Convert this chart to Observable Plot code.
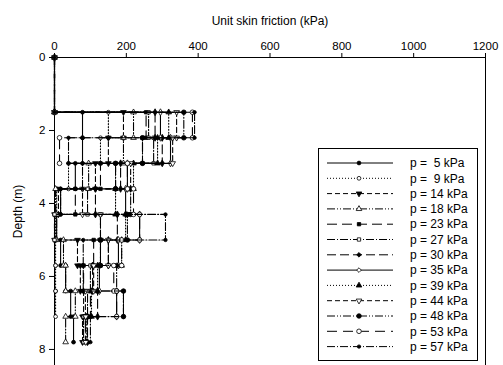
<!DOCTYPE html>
<html><head><meta charset="utf-8">
<script src="https://cdn.jsdelivr.net/npm/d3@7"></script>
<script src="https://cdn.jsdelivr.net/npm/@observablehq/plot@0.6"></script>
<style>
body{margin:0;background:#fff;font-family:"Liberation Sans",Arial,sans-serif}
#chart{position:relative;width:503px;height:365px;overflow:hidden}
</style>
</head><body><div id="chart"></div>
<script>
// Layer boundaries (depth, m)
const depths = [0, 1.5, 2.2, 2.9, 3.6, 4.3, 5.0, 5.7, 6.4, 7.1, 7.8];
// Pressures (kPa) for each series
const pressures = [5, 9, 14, 18, 23, 27, 30, 35, 39, 44, 48, 53, 57];
// Unit skin friction (kPa) in each layer below 1.5 m, one list per series
const p5  = [78, 78, 58, 17, 6, 17, 31, 45, 53];
const p9  = [150, 128, 39, 6, 3, 3, 3, 3, null];
const p14 = [192, 150, 114, 11, 0, 64, 72, 81, 78];
const p18 = [220, 192, 95, 3, 6, 25, 31, 58, 31];
const p23 = [255, 245, 128, 58, 128, 109, 81, 100, 86];
const p27 = [262, 276, 170, 92, 0, 128, 100, 92, 81];
const p30 = [280, 300, 184, 114, 175, 150, 106, 120, 92];
const p35 = [295, 323, 203, 198, 237, 178, 125, 173, null];
const p39 = [318, 287, 220, 170, 198, 187, 120, 103, 90];
const p44 = [340, 329, 212, 78, 128, 150, 109, 86, 87];
const p48 = [360, 245, 170, 212, 203, 128, 173, 192, null];
const p53 = [384, 14, 203, 220, 237, 187, 165, 173, null];
const p57 = [390, 39, 78, 17, 309, 80, 80, 192, 100];
const seriesValues = [p5, p9, p14, p18, p23, p27, p30, p35, p39, p44, p48, p53, p57];
const xTicks = [0, 200, 400, 600, 800, 1000, 1200];
const yTicks = [0, 2, 4, 6, 8];

const triDown = {draw(ctx, size) {
  const y = -Math.sqrt(size / (Math.sqrt(3) * 3)), s3 = Math.sqrt(3);
  ctx.moveTo(0, -y * 2); ctx.lineTo(-s3 * y, y); ctx.lineTo(s3 * y, y); ctx.closePath();
}};
const styles = [
  {dash: null,            sym: "circle",   fill: "black", r: 1.9},
  {dash: "1,2",           sym: "circle",   fill: "white", r: 1.9},
  {dash: "5,3",           sym: triDown,    fill: "black", r: 2.1},
  {dash: "8,2,1,2,1,2",   sym: "triangle", fill: "white", r: 2.1},
  {dash: "10,5",          sym: "square",   fill: "black", r: 1.9},
  {dash: "8,2,1,2",       sym: "square",   fill: "white", r: 1.9},
  {dash: "9,4",           sym: "diamond",  fill: "black", r: 2.1},
  {dash: null,            sym: "diamond",  fill: "white", r: 2.1},
  {dash: "1,2",           sym: "triangle", fill: "black", r: 2.1},
  {dash: "5,3",           sym: triDown,    fill: "white", r: 2.1},
  {dash: "8,2,1,2,1,2",   sym: "circle",   fill: "black", r: 2.3},
  {dash: "10,6",          sym: "circle",   fill: "white", r: 2.3},
  {dash: "8,2,1,2",       sym: "circle",   fill: "black", r: 1.7}
];

const marks = [
  Plot.ruleX([0], {stroke: "black"}),
  Plot.ruleX([1200], {stroke: "black"}),
  Plot.ruleY([0], {stroke: "black"})
];
seriesValues.forEach((vals, k) => {
  const pts = [{x: 0, y: depths[0]}, {x: 0, y: depths[1]}];
  vals.forEach((v, i) => {
    if (v == null) return;
    pts.push({x: v, y: depths[i + 1]}, {x: v, y: depths[i + 2]});
  });
  const st = styles[k];
  marks.push(Plot.line(pts, {x: "x", y: "y", stroke: "black", strokeWidth: 1.1,
    strokeDasharray: st.dash || undefined}));
  marks.push(Plot.dot(pts, {x: "x", y: "y", symbol: st.sym, r: st.r,
    fill: st.fill, stroke: "black", strokeWidth: 0.8}));
});
marks.push(
  Plot.axisX({anchor: "top", ticks: xTicks, tickFormat: d3.format("d"), tickSize: 5, tickPadding: 3,
    label: "Unit skin friction (kPa)", labelAnchor: "center", labelOffset: 41, labelArrow: "none"}),
  Plot.axisY({anchor: "left", ticks: yTicks, tickFormat: d3.format("d"), tickSize: 5, tickPadding: 4,
    label: "Depth (m)", labelAnchor: "center", labelOffset: 41, labelArrow: "none"})
);

const chart = Plot.plot({
  width: 503, height: 365,
  marginTop: 57, marginLeft: 54, marginRight: 18, marginBottom: 0,
  style: {fontFamily: "Liberation Sans, Arial, sans-serif", color: "black", background: "white"},
  x: {domain: [0, 1200]},
  y: {domain: [0, 8.44], reverse: true},
  marks
});
document.getElementById("chart").appendChild(chart);

const svg = d3.select(chart);
svg.attr("font-size", 11.5).style("font-size", "11.5px");
svg.selectAll("g[aria-label='x-axis label'] text, g[aria-label='y-axis label'] text")
  .attr("font-size", 12).style("font-size", "12px");
svg.selectAll("g[aria-label='x-axis label'], g[aria-label='y-axis label']")
  .attr("font-size", 12);

// Legend box
const lg = svg.append("g");
const bx = 318, by = 148, bw = 159, bh = 212, rowH = 15.3;
lg.append("rect").attr("x", bx + 0.5).attr("y", by + 0.5).attr("width", bw).attr("height", bh)
  .attr("fill", "white").attr("stroke", "black");
pressures.forEach((p, k) => {
  const st = styles[k];
  const yy = by + 15 + k * rowH;
  lg.append("line").attr("x1", bx + 9).attr("x2", bx + 75).attr("y1", yy).attr("y2", yy)
    .attr("stroke", "black").attr("stroke-dasharray", st.dash || null);
  const symType = st.sym === "circle" ? d3.symbolCircle : st.sym === "triangle" ? d3.symbolTriangle
    : st.sym === "square" ? d3.symbolSquare : st.sym === "diamond" ? d3.symbolDiamond2 : st.sym;
  const area = st.r * st.r * Math.PI;
  lg.append("path").attr("d", d3.symbol(symType, area)())
    .attr("transform", `translate(${bx + 41},${yy})`)
    .attr("fill", st.fill).attr("stroke", "black").attr("stroke-width", 0.8);
  lg.append("text").attr("x", bx + 92).attr("y", yy).attr("dy", "0.35em")
    .attr("text-anchor", "start").style("white-space", "pre")
    .attr("font-size", 12).style("font-size", "12px").attr("fill", "black")
    .text(p < 10 ? `p =  ${p} kPa` : `p = ${p} kPa`);
});
</script>
</body></html>
